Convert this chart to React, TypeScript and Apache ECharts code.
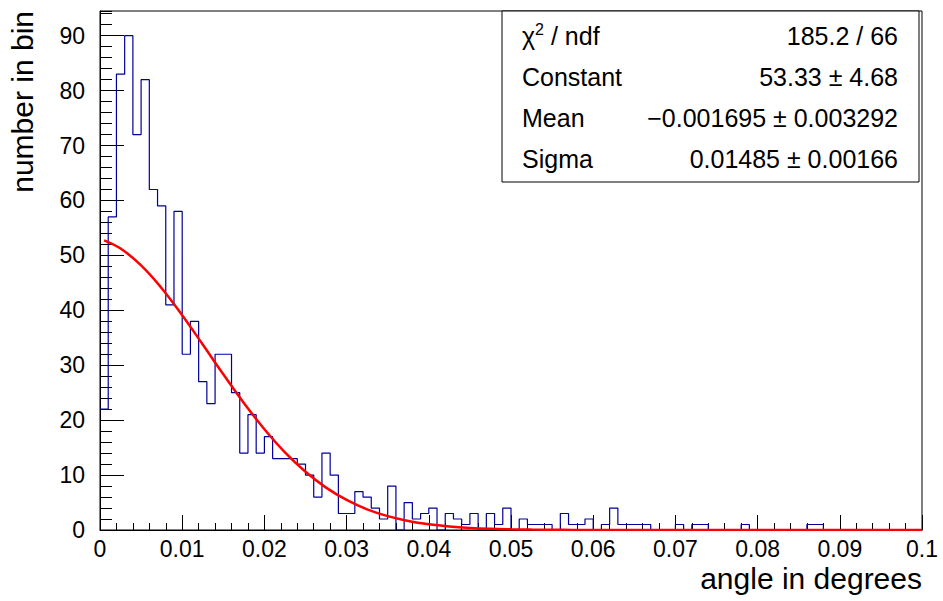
import React, { useEffect, useRef } from 'react';
import * as echarts from 'echarts';

// ---- data ----
const binWidth = 0.001;
const binCounts = [
  22, 57, 83, 90, 72, 82, 62, 59, 41, 58,
  32, 38, 27, 23, 32, 32, 25, 14, 21, 14,
  17, 13, 13, 13, 12, 10, 6, 14, 10, 3,
  3, 7, 6, 4, 2, 8, 0, 5, 2, 3,
  4, 0, 3, 2, 1, 3, 0, 3, 1, 4,
  0, 2, 1, 1, 1, 0, 3, 1, 1, 2,
  0, 1, 4, 1, 1, 1, 1, 0, 0, 0,
  1, 0, 1, 1, 0, 0, 0, 0, 1, 0,
  0, 0, 0, 0, 0, 0, 1, 1, 0, 0,
  0, 0, 0, 0, 0, 0, 0, 0, 0, 0,
];

const fitX = [0.0005, 0.0025, 0.005, 0.0075, 0.01, 0.0125, 0.015, 0.0175, 0.02, 0.0225, 0.025, 0.0275,
  0.03, 0.0325, 0.035, 0.0375, 0.04, 0.0425, 0.045, 0.0475, 0.05, 0.0525, 0.055, 0.0575, 0.06, 0.065, 0.07, 0.08, 0.09, 0.1];
const fitY = [52.75, 51.25, 48.18, 44.03, 39.11, 33.77, 28.35, 23.13, 18.35, 14.14, 10.6, 7.72,
  5.47, 3.76, 2.52, 1.64, 1.04, 0.64, 0.38, 0.22, 0.13, 0.07, 0.04, 0.02, 0.01, 0, 0, 0, 0, 0];

const xTickLabels = ['0', '0.01', '0.02', '0.03', '0.04', '0.05', '0.06', '0.07', '0.08', '0.09', '0.1'];
const yTickLabels = ['0', '10', '20', '30', '40', '50', '60', '70', '80', '90'];

const statLabels = ['{t|χ}{s|2}{t| / ndf}', 'Constant', 'Mean', 'Sigma'];
const statValues = ['185.2 / 66', '53.33 ± 4.68', '−0.001695 ± 0.003292', '0.01485 ± 0.00166'];

const xTitle = 'angle in degrees';
const yTitle = 'number in bin';

const FONT = "'Liberation Sans', Arial, Helvetica, sans-serif";

export default function App() {
  const ref = useRef<HTMLDivElement>(null);

  useEffect(() => {
    if (!ref.current) return;
    const chart = echarts.init(ref.current, null, { renderer: 'svg' });

    const histData: [number, number][] = binCounts.map((c, i) => [i * binWidth, c]);
    histData.push([binCounts.length * binWidth, binCounts[binCounts.length - 1]]);
    const fitData = fitX.map((x, i) => [x, fitY[i]]);

    const boxLeft = 502, boxTop = 11, boxRight = 919, boxBottom = 182;
    const rowStart = 36, rowStep = 41;

    const statTexts: any[] = [];
    statLabels.forEach((lab, i) => {
      const y = rowStart + rowStep * i;
      statTexts.push({
        type: 'text', z: 101, x: 522, y,
        style: {
          text: lab, fill: '#000', font: `25px ${FONT}`, align: 'left', verticalAlign: 'middle',
          rich: {
            t: { fontSize: 25, fontFamily: FONT, fill: '#000' },
            s: { fontSize: 16, fontFamily: FONT, fill: '#000', verticalAlign: 'top', padding: [0, 0, 13, 0] },
          },
        },
      });
      statTexts.push({
        type: 'text', z: 101, x: 898, y,
        style: { text: statValues[i], fill: '#000', font: `25px ${FONT}`, align: 'right', verticalAlign: 'middle' },
      });
    });

    const option: any = {
      animation: false,
      backgroundColor: '#ffffff',
      grid: { left: 100, right: 21, top: 11, bottom: 71, show: true, borderColor: '#000', borderWidth: 1, backgroundColor: 'transparent' },
      xAxis: {
        type: 'value', min: 0, max: 0.1, interval: 0.01,
        axisLine: { show: true, onZero: false, lineStyle: { color: '#000', width: 1 } },
        axisTick: { show: true, inside: true, length: 15, lineStyle: { color: '#000', width: 1 } },
        minorTick: { show: true, splitNumber: 5, length: 7, lineStyle: { color: '#000', width: 1 } },
        splitLine: { show: false },
        minorSplitLine: { show: false },
        axisLabel: {
          color: '#000', fontSize: 23, fontFamily: FONT, margin: 7,
          formatter: (v: number) => xTickLabels[Math.round(v / 0.01)] ?? '',
        },
      },
      yAxis: [
        {
          type: 'value', min: 0, max: 94.5, interval: 10,
          axisLine: { show: true, onZero: false, lineStyle: { color: '#000', width: 1 } },
          axisTick: { show: true, inside: true, length: 24, lineStyle: { color: '#000', width: 1 } },
          splitLine: { show: false },
          axisLabel: {
            color: '#000', fontSize: 23, fontFamily: FONT, margin: 15, showMaxLabel: false,
            formatter: (v: number) => {
              const k = Math.round(v / 10);
              return Math.abs(v - k * 10) < 1e-6 ? (yTickLabels[k] ?? '') : '';
            },
          },
        },
        {
          type: 'value', min: 0, max: 94.5, interval: 2, position: 'left',
          axisLine: { show: false },
          axisTick: { show: true, inside: true, length: 12, lineStyle: { color: '#000', width: 1 } },
          axisLabel: { show: false },
          splitLine: { show: false },
        },
      ],
      series: [
        {
          type: 'line', step: 'end', data: histData, symbol: 'none', yAxisIndex: 0, z: 3,
          lineStyle: { color: '#000099', width: 1.2 },
        },
        {
          type: 'line', data: fitData, smooth: 0.4, symbol: 'none', yAxisIndex: 0, z: 4,
          lineStyle: { color: '#ff0000', width: 2.5 },
        },
      ],
      graphic: [
        {
          type: 'rect', z: 100,
          shape: { x: boxLeft, y: boxTop, width: boxRight - boxLeft, height: boxBottom - boxTop },
          style: { fill: '#fff', stroke: '#000', lineWidth: 1 },
        },
        ...statTexts,
        {
          type: 'text', z: 101, x: 922, y: 578,
          style: { text: xTitle, fill: '#000', font: `30px ${FONT}`, align: 'right', verticalAlign: 'middle' },
        },
        {
          type: 'text', z: 101, x: 22, y: 11, rotation: Math.PI / 2,
          style: { text: yTitle, fill: '#000', font: `30px ${FONT}`, align: 'right', verticalAlign: 'middle' },
        },
      ],
    };

    chart.setOption(option);
    return () => chart.dispose();
  }, []);

  return (
    <div
      ref={ref}
      style={{ position: 'fixed', left: 0, top: 0, width: 943, height: 601, background: '#fff' }}
    />
  );
}
